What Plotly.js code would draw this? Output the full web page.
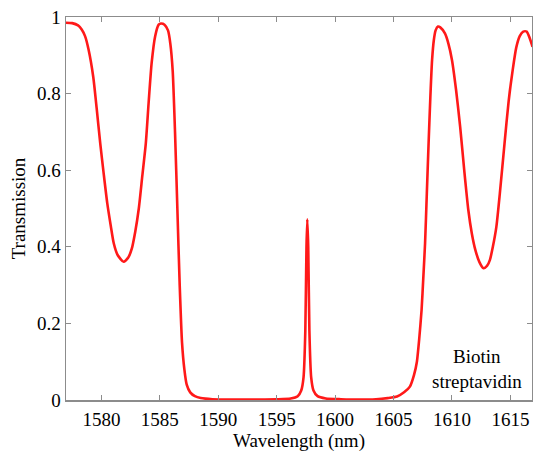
<!DOCTYPE html>
<html>
<head>
<meta charset="utf-8">
<script src="https://cdn.plot.ly/plotly-3.0.1.min.js"></script>
<style>html,body{margin:0;padding:0;background:#fff;}#chart{width:533px;height:452px;}</style>
</head>
<body>
<div id="chart"></div>
<script>
const wavelength = [
1576.97,1577.5,1578.0,1578.3,1578.6,1578.9,1579.3,1579.6,1579.9,1580.2,1580.5,1580.8,1581.05,1581.4,1581.9,1582.3,1582.6,1582.9,1583.2,1583.5,1583.8,1584.05,1584.3,1584.6,1584.9,1585.1,1585.4,1585.7,1585.9,1586.1,1586.3,1586.5,1586.7,1586.9,1587.1,1587.3,1587.6,1588.0,1588.5,1589.5,1591,1593,1595,1596.2,1596.8,1597.1,1597.3,1597.45,1597.55,1597.62,1597.7,1597.8,1597.95,1598.15,1598.5,1599.2,1600.5,1602,1603.5,1604.5,1605.3,1605.9,1606.4,1606.75,1607.0,1607.2,1607.4,1607.55,1607.7,1607.85,1608.0,1608.15,1608.3,1608.45,1608.6,1608.8,1609.0,1609.4,1609.7,1610.0,1610.35,1610.7,1611.05,1611.4,1611.7,1612.0,1612.35,1612.7,1613.0,1613.25,1613.5,1613.8,1614.1,1614.5,1614.85,1615.2,1615.5,1615.8,1616.1,1616.4,1616.65,1616.9
];
const transmission = [
0.985,0.984,0.978,0.968,0.950,0.915,0.844,0.760,0.670,0.590,0.514,0.455,0.410,0.378,0.361,0.372,0.395,0.440,0.500,0.585,0.670,0.780,0.880,0.950,0.980,0.983,0.980,0.965,0.930,0.860,0.700,0.500,0.300,0.150,0.080,0.040,0.020,0.010,0.005,0.002,0.001,0.001,0.002,0.004,0.010,0.025,0.060,0.180,0.400,0.472,0.400,0.180,0.060,0.025,0.010,0.004,0.002,0.001,0.002,0.005,0.009,0.020,0.035,0.065,0.100,0.160,0.235,0.320,0.410,0.540,0.670,0.790,0.888,0.940,0.965,0.975,0.973,0.957,0.930,0.888,0.810,0.714,0.600,0.496,0.435,0.392,0.360,0.344,0.350,0.366,0.400,0.452,0.540,0.670,0.780,0.862,0.920,0.950,0.962,0.962,0.945,0.922
];
const xTicks = [1580,1585,1590,1595,1600,1605,1610,1615];
const yTicks = [0,0.2,0.4,0.6,0.8,1];
const yTickText = ['0','0.2','0.4','0.6','0.8','1'];
const labelText = 'Biotin<br>streptavidin';

const font = {family:'Liberation Serif', size:19, color:'#000'};
const axisCommon = {
  showline:true, linecolor:'#8c8c8c', linewidth:1.5, mirror:'ticks',
  ticks:'inside', ticklen:5, tickcolor:'#8c8c8c', tickwidth:1,
  showgrid:false, zeroline:false, tickfont:font
};
Plotly.newPlot('chart', [{
  x: wavelength, y: transmission, type:'scatter', mode:'lines',
  line:{color:'rgb(255,25,25)', width:2.6, shape:'spline', smoothing:0.6},
  hoverinfo:'skip'
}], {
  width:533, height:452,
  margin:{l:66, r:1, t:17, b:52},
  paper_bgcolor:'#fff', plot_bgcolor:'#fff',
  showlegend:false, font:font,
  xaxis: Object.assign({}, axisCommon, {
    range:[1576.97,1616.85], tickvals:xTicks, ticktext:xTicks.map(String),
    ticklabelstandoff:2,
    title:{text:'Wavelength (nm)', font:font, standoff:5}
  }),
  yaxis: Object.assign({}, axisCommon, {
    range:[0,1], tickvals:yTicks, ticktext:yTickText,
    title:{text:'Transmission', font:font, standoff:6}
  }),
  annotations:[{
    x:1612.13, y:0.081, xref:'x', yref:'y', text:labelText, showarrow:false,
    xanchor:'center', yanchor:'middle', font:font, align:'center'
  }]
}, {displayModeBar:false, staticPlot:true});
</script>
</body>
</html>
